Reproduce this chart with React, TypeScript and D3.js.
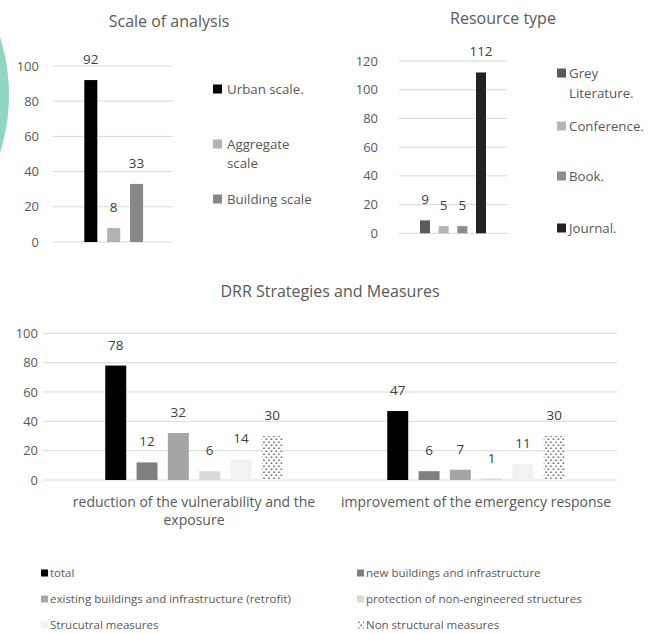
import { useEffect, useRef } from 'react';
import * as d3 from 'd3';

const W = 659;
const H = 634;
const FONT = "'Open Sans', 'Liberation Sans', sans-serif";
const TEXT = '#595959';
const LABEL = '#404040';
const GRID = '#d9d9d9';

// Scale of analysis
const scaleLabels = ['Urban scale.', 'Aggregate\nscale', 'Building scale'];
const scaleValues = [92, 8, 33];
const scaleColors = ['#000000', '#b2b2b2', '#878787'];
const scaleTicks = [0, 20, 40, 60, 80, 100];

// Resource type
const resourceLabels = ['Grey\nLiterature.', 'Conference.', 'Book.', 'Journal.'];
const resourceValues = [9, 5, 5, 112];
const resourceColors = ['#5a5a5a', '#b6b6b6', '#8c8c8c', '#232323'];
const resourceTicks = [0, 20, 40, 60, 80, 100, 120];

// DRR Strategies and Measures
const drrGroups = ['reduction of the vulnerability and the\nexposure', 'improvement of the emergency response'];
const drrSeries = [
  'total',
  'new buildings and infrastructure',
  'existing buildings and infrastructure (retrofit)',
  'protection of non-engineered structures',
  'Strucutral measures',
  'Non structural measures',
];
const drrReduction = [78, 12, 32, 6, 14, 30];
const drrEmergency = [47, 6, 7, 1, 11, 30];
const drrColors = ['#000000', '#7f7f7f', '#a5a5a5', '#d9d9d9', '#f2f2f2', 'url(#dots)'];
const drrTicks = [0, 20, 40, 60, 80, 100];

type G = d3.Selection<SVGGElement, unknown, null, undefined>;

function gridAndTicks(g: G, y: d3.ScaleLinear<number, number>, ticks: number[], x0: number, x1: number, tx: number) {
  g.selectAll(null)
    .data(ticks)
    .enter()
    .append('line')
    .attr('x1', x0)
    .attr('x2', x1)
    .attr('y1', d => y(d))
    .attr('y2', d => y(d))
    .style('stroke', GRID)
    .style('stroke-width', 1);

  g.selectAll(null)
    .data(ticks)
    .enter()
    .append('text')
    .attr('x', tx)
    .attr('y', d => y(d))
    .attr('dy', '0.35em')
    .attr('text-anchor', 'end')
    .style('font-size', '13px')
    .style('fill', TEXT)
    .text(d => d);
}

function multiline(g: G, lines: string, x: number, y: number, lh: number, size: number, anchor = 'start') {
  const t = g.append('text')
    .attr('x', x)
    .attr('y', y)
    .attr('text-anchor', anchor)
    .style('font-size', `${size}px`)
    .style('fill', TEXT);
  lines.split('\n').forEach((s, i) => {
    t.append('tspan').attr('x', x).attr('y', y + i * lh).attr('dy', '0.35em').text(s);
  });
}

export default function App() {
  const svgRef = useRef<SVGSVGElement | null>(null);

  useEffect(() => {
    if (!svgRef.current) return;
    const svg = d3.select(svgRef.current);
    svg.selectAll('*').remove();
    svg.style('font-family', FONT);

    // dotted fill for non structural measures
    const pat = svg.append('defs').append('pattern')
      .attr('id', 'dots')
      .attr('patternUnits', 'userSpaceOnUse')
      .attr('width', 5)
      .attr('height', 6);
    pat.append('rect').attr('width', 5).attr('height', 6).attr('fill', '#ffffff');
    pat.append('rect').attr('x', 0.5).attr('y', 0.5).attr('width', 1.5).attr('height', 1.5).attr('fill', '#5a5a5a');
    pat.append('rect').attr('x', 3).attr('y', 3.5).attr('width', 1.5).attr('height', 1.5).attr('fill', '#5a5a5a');

    // decoration bleeding in from the page on the left
    svg.append('circle')
      .attr('cx', -182)
      .attr('cy', 95)
      .attr('r', 191)
      .attr('fill', '#8fd6c2');

    const root = svg.append('g') as unknown as G;

    // ---- Scale of analysis ----
    const g1 = root.append('g') as G;
    g1.append('text').attr('x', 169).attr('y', 27).attr('text-anchor', 'middle')
      .style('font-size', '16px').style('fill', TEXT).text('Scale of analysis');
    const y1 = d3.scaleLinear().domain([0, 100]).range([242, 66]);
    gridAndTicks(g1, y1, scaleTicks, 53, 173, 39);
    const xb1 = d3.scaleBand<number>().domain(d3.range(scaleValues.length))
      .range([113.7 - 29.4, 113.7 + 29.4]).paddingInner(0.43);
    g1.selectAll(null).data(scaleValues).enter().append('rect')
      .attr('x', (d, i) => xb1(i)!)
      .attr('width', xb1.bandwidth())
      .attr('y', d => y1(d))
      .attr('height', d => y1(0) - y1(d))
      .attr('fill', (d, i) => scaleColors[i]);
    g1.selectAll(null).data(scaleValues).enter().append('text')
      .attr('x', (d, i) => xb1(i)! + xb1.bandwidth() / 2)
      .attr('y', d => y1(d) - 16)
      .attr('text-anchor', 'middle')
      .style('font-size', '13.5px').style('fill', LABEL)
      .text(d => d);
    scaleLabels.forEach((lab, i) => {
      const yy = 89 + 55 * i;
      g1.append('rect').attr('x', 213).attr('y', yy - 4.5).attr('width', 9).attr('height', 9).attr('fill', scaleColors[i]);
      multiline(g1, lab, 227, yy, 19, 13.3);
    });

    // ---- Resource type ----
    const g2 = root.append('g') as G;
    g2.append('text').attr('x', 503).attr('y', 24).attr('text-anchor', 'middle')
      .style('font-size', '16px').style('fill', TEXT).text('Resource type');
    const y2 = d3.scaleLinear().domain([0, 120]).range([233.3, 61]);
    gridAndTicks(g2, y2, resourceTicks, 399, 507, 378);
    const xb2 = d3.scaleBand<number>().domain(d3.range(resourceValues.length))
      .range([420, 486]).paddingInner(0.464);
    g2.selectAll(null).data(resourceValues).enter().append('rect')
      .attr('x', (d, i) => xb2(i)!)
      .attr('width', xb2.bandwidth())
      .attr('y', d => y2(d))
      .attr('height', d => y2(0) - y2(d))
      .attr('fill', (d, i) => resourceColors[i]);
    g2.selectAll(null).data(resourceValues).enter().append('text')
      .attr('x', (d, i) => xb2(i)! + xb2.bandwidth() / 2)
      .attr('y', d => y2(d) - 16)
      .attr('text-anchor', 'middle')
      .style('font-size', '13.5px').style('fill', LABEL)
      .text(d => d);
    const resY = [73, 126, 176, 228];
    resourceLabels.forEach((lab, i) => {
      const yy = resY[i];
      g2.append('rect').attr('x', 557).attr('y', yy - 4.5).attr('width', 9).attr('height', 9).attr('fill', resourceColors[i]);
      multiline(g2, lab, 569, yy, 20, 13.3);
    });

    // ---- DRR Strategies and Measures ----
    const g3 = root.append('g') as G;
    g3.append('text').attr('x', 330).attr('y', 297).attr('text-anchor', 'middle')
      .style('font-size', '16px').style('fill', TEXT).text('DRR Strategies and Measures');
    const y3 = d3.scaleLinear().domain([0, 100]).range([480, 333.3]);
    gridAndTicks(g3, y3, drrTicks, 43, 617, 38);
    const x0 = d3.scaleBand<string>().domain(drrGroups).range([53, 617]);
    const span = 177.5;
    const x1 = d3.scaleBand<number>().domain(d3.range(drrSeries.length)).range([0, span]).paddingInner(0.33);
    const groupValues = [drrReduction, drrEmergency];
    drrGroups.forEach((grp, gi) => {
      const cx = x0(grp)! + x0.bandwidth() / 2;
      const gg = g3.append('g').attr('transform', `translate(${cx - span / 2},0)`) as G;
      gg.selectAll(null).data(groupValues[gi]).enter().append('rect')
        .attr('x', (d, i) => x1(i)!)
        .attr('width', x1.bandwidth())
        .attr('y', d => y3(d))
        .attr('height', d => y3(0) - y3(d))
        .attr('fill', (d, i) => drrColors[i]);
      gg.selectAll(null).data(groupValues[gi]).enter().append('text')
        .attr('x', (d, i) => x1(i)! + x1.bandwidth() / 2)
        .attr('y', d => y3(d) - 16)
        .attr('text-anchor', 'middle')
        .style('font-size', '13.5px').style('fill', LABEL)
        .text(d => d);
      multiline(g3, grp, cx, 502, 18.5, 14, 'middle');
    });

    // bottom legend, two columns
    drrSeries.forEach((s, i) => {
      const col = i % 2;
      const row = Math.floor(i / 2);
      const lx = col === 0 ? 41 : 357;
      const ly = 573 + row * 26;
      g3.append('rect').attr('x', lx).attr('y', ly - 3.5).attr('width', 7).attr('height', 7).attr('fill', drrColors[i]);
      g3.append('text').attr('x', lx + 9).attr('y', ly).attr('dy', '0.35em')
        .style('font-size', '11.5px').style('fill', TEXT).text(s);
    });
  }, []);

  return (
    <svg
      ref={svgRef}
      width={W}
      height={H}
      style={{ position: 'absolute', left: 0, top: 0, background: '#ffffff' }}
    />
  );
}
